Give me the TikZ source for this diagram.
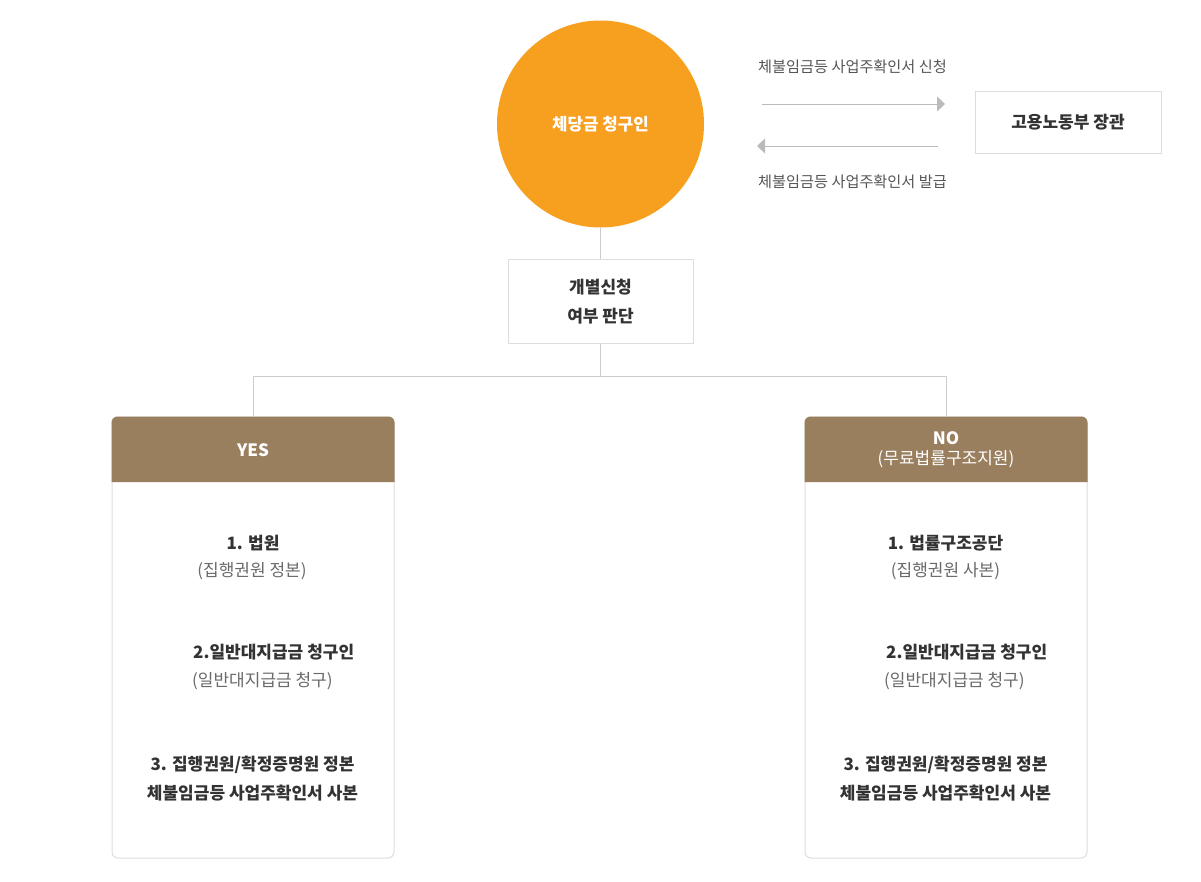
\documentclass[tikz,border=0pt]{standalone}
\usepackage{fontspec}
\setmainfont{Noto Sans CJK KR}
\usetikzlibrary{arrows.meta}
\definecolor{orangec}{HTML}{F79F1F}
\definecolor{brownc}{HTML}{9A7F5F}
\definecolor{linec}{HTML}{CCCCCC}
\definecolor{boxc}{HTML}{DDDDDD}
\definecolor{arrowc}{HTML}{BBBBBB}
\definecolor{darkt}{HTML}{333333}
\definecolor{grayt}{HTML}{6A6A6A}
\definecolor{labt}{HTML}{555555}
\tikzset{
  conn/.style={draw=linec, line width=1pt},
  plainbox/.style={draw=boxc, line width=1pt, fill=white},
  card/.style={draw=boxc, line width=1pt, rounded corners=6pt, fill=white},
  headtxt/.style={text=white, font=\fontsize{17}{23}\selectfont\bfseries, align=center},
  titletxt/.style={text=darkt, font=\fontsize{17}{21}\selectfont\bfseries},
  subtxt/.style={text=grayt, font=\fontsize{17}{21}\selectfont},
  labtxt/.style={text=labt, font=\fontsize{15.2}{19}\selectfont},
  arr/.style={draw=arrowc, line width=1pt, -{Triangle[length=8pt,width=15pt]}}
}
\begin{document}
\begin{tikzpicture}[x=1pt,y=-1pt]
\useasboundingbox[fill=white] (0,0) rectangle (1201,881);
% circle
\node[circle, fill=orangec, minimum size=207pt, inner sep=0pt] (claim) at (600.5,124) {};
\node[text=white, font=\fontsize{16.8}{21}\selectfont\bfseries] (claimt) at (600.5,124) {체당금 청구인};
% ministry
\node[plainbox, minimum width=186pt, minimum height=62pt, inner sep=0pt] (min) at (1068,122) {};
\node[titletxt] (mint) at (1068,122) {고용노동부 장관};
% arrows
\coordinate (a1s) at (762,104);
\coordinate (a1e) at (945,104);
\coordinate (a2s) at (938,146);
\coordinate (a2e) at (757,146);
\draw[arr] (a1s) -- (a1e);
\draw[arr] (a2s) -- (a2e);
\node[labtxt] (lab1) at (852.5,67) {체불임금등 사업주확인서 신청};
\node[labtxt] (lab2) at (852.5,182) {체불임금등 사업주확인서 발급};
% decision box
\node[plainbox, minimum width=185pt, minimum height=84pt, inner sep=0pt] (dec) at (600.5,301) {};
\node[titletxt] (dec1) at (600.5,287) {개별신청};
\node[titletxt] (dec2) at (600.5,316) {여부 판단};
% cards
\node[card, minimum width=282pt, minimum height=441pt, inner sep=0pt] (yes) at (253,637.5) {};
\node[card, minimum width=282pt, minimum height=441pt, inner sep=0pt] (no) at (946,637.5) {};
% headers (rounded only at the top)
\fill[brownc] (111.5,482) -- (111.5,422.5) arc[start angle=180, end angle=270, radius=6]
  -- (388.5,416.5) arc[start angle=270, end angle=360, radius=6] -- (394.5,482) -- cycle;
\fill[brownc] (804.5,482) -- (804.5,422.5) arc[start angle=180, end angle=270, radius=6]
  -- (1081.5,416.5) arc[start angle=270, end angle=360, radius=6] -- (1087.5,482) -- cycle;
\node[headtxt] (yesh) at (253,450) {YES};
\node[headtxt] (noh) at (946,449.5) {NO\\[-3pt]\mdseries (무료법률구조지원)};
% connectors
\coordinate (split) at (600.5,376);
\coordinate (lt) at (253,376);
\coordinate (rt) at (946,376);
\draw[conn] (claim.south) -- (dec.north);
\draw[conn] (dec.south) -- (split);
\draw[conn] (lt) -- (rt);
\draw[conn] (lt) -- (yes.north);
\draw[conn] (rt) -- (no.north);
% yes contents
\node[titletxt] (y1) at (253,543) {1. 법원};
\node[subtxt] (y1s) at (252,571) {(집행권원 정본)};
\node[titletxt, anchor=west, inner sep=0pt] (y2) at (193,652) {2.일반대지급금 청구인};
\node[subtxt, anchor=west, inner sep=0pt] (y2s) at (192,681) {(일반대지급금 청구)};
\node[titletxt] (y3) at (252.5,765) {3. 집행권원/확정증명원 정본};
\node[titletxt] (y3b) at (252.5,793) {체불임금등 사업주확인서 사본};
% no contents
\node[titletxt] (n1) at (945.5,543) {1. 법률구조공단};
\node[subtxt] (n1s) at (945.5,571) {(집행권원 사본)};
\node[titletxt, anchor=west, inner sep=0pt] (n2) at (886,652) {2.일반대지급금 청구인};
\node[subtxt, anchor=west, inner sep=0pt] (n2s) at (884,681) {(일반대지급금 청구)};
\node[titletxt] (n3) at (945.5,765) {3. 집행권원/확정증명원 정본};
\node[titletxt] (n3b) at (945.5,793) {체불임금등 사업주확인서 사본};
\end{tikzpicture}
\end{document}
